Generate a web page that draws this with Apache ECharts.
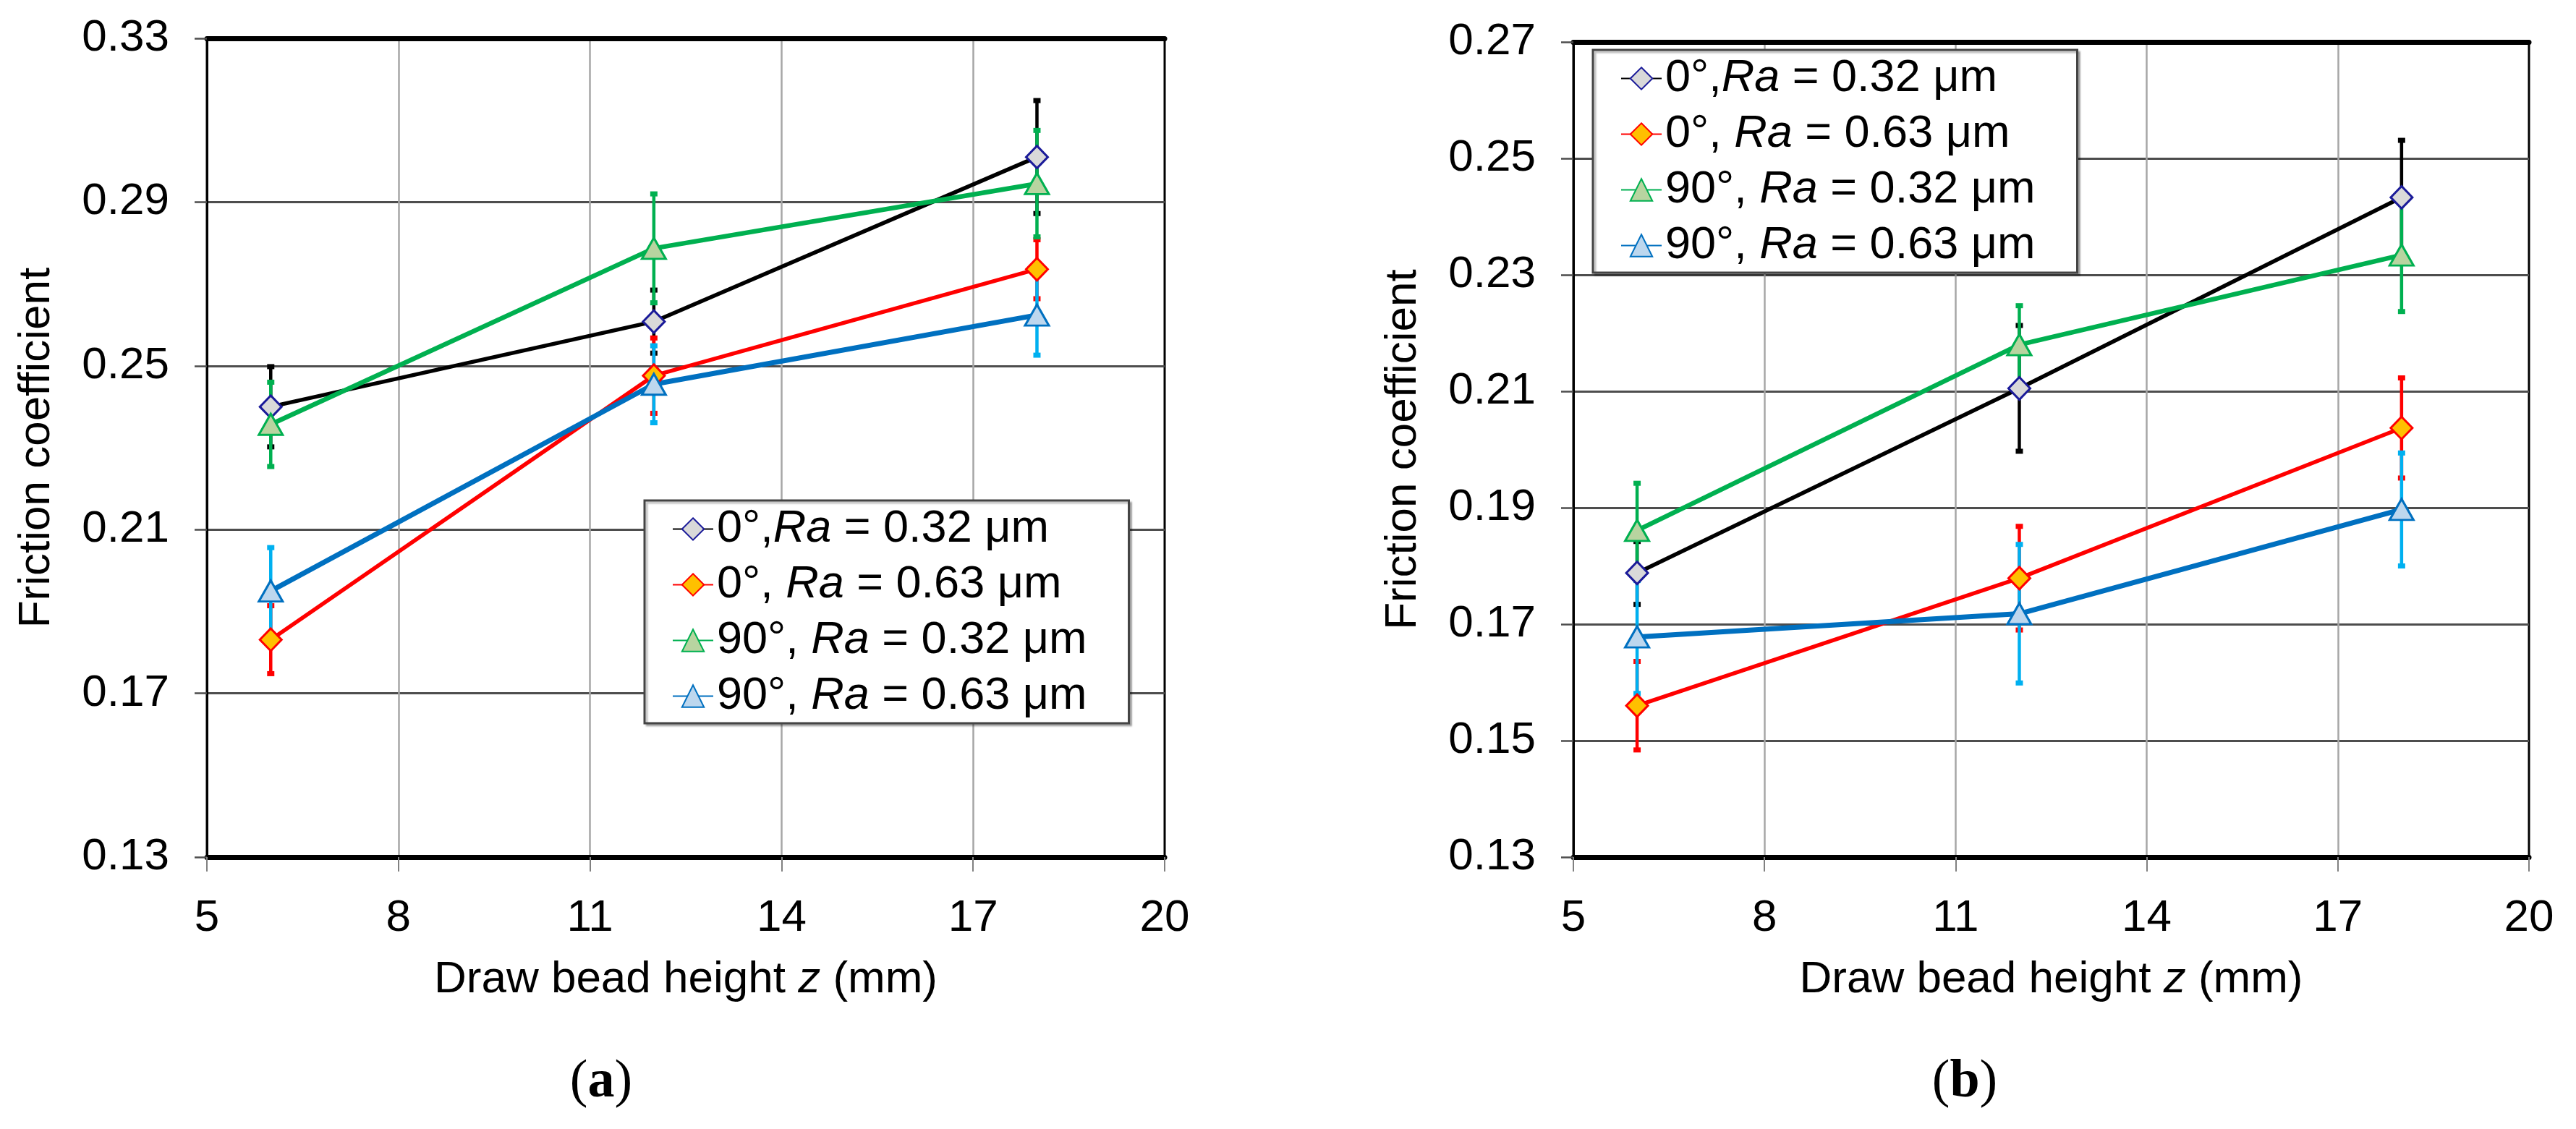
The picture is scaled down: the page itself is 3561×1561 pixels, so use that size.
<!DOCTYPE html>
<html>
<head>
<meta charset="utf-8">
<script src="https://cdn.jsdelivr.net/npm/echarts@6/dist/echarts.min.js"></script>
<style>
html,body{margin:0;padding:0;background:#fff;}
#c{width:3561px;height:1561px;}
</style>
</head>
<body>
<div id="c"></div>
<script>
// ---------- data ----------
const zValues = [6, 12, 18];                       // draw bead height z (mm)
const xTicks = [5, 8, 11, 14, 17, 20];
const yTicksA = [0.13, 0.17, 0.21, 0.25, 0.29, 0.33];
const yTicksB = [0.13, 0.15, 0.17, 0.19, 0.21, 0.23, 0.25, 0.27];
const seriesNames = ['0°,Ra = 0.32 μm', '0°, Ra = 0.63 μm', '90°, Ra = 0.32 μm', '90°, Ra = 0.63 μm'];
const xTitle = 'Draw bead height {i|z} (mm)';
const yTitle = 'Friction coefficient';
const captions = ['a', 'b'];

// (a)
const a0_032 = [0.2400, 0.2608, 0.3010];
const a0_032Err = [0.0098, 0.0077, 0.0138];
const a0_063 = [0.1831, 0.2476, 0.2736];
const a0_063Err = [0.0083, 0.0092, 0.0072];
const a90_032 = [0.2357, 0.2787, 0.2945];
const a90_032Err = [0.0103, 0.0133, 0.0130];
const a90_063 = [0.1950, 0.2455, 0.2624];
const a90_063Err = [0.0106, 0.0094, 0.0098];

// (b)
const b0_032 = [0.1788, 0.2105, 0.2433];
const b0_032Err = [0.0054, 0.0108, 0.0098];
const b0_063 = [0.1560, 0.1779, 0.2037];
const b0_063Err = [0.0076, 0.0089, 0.0086];
const b90_032 = [0.1861, 0.2180, 0.2334];
const b90_032Err = [0.0081, 0.0067, 0.0097];
const b90_063 = [0.1678, 0.1718, 0.1897];
const b90_063Err = [0.0097, 0.0119, 0.0097];

// ---------- styles ----------
const FONT = '"Liberation Sans", Arial, sans-serif';
const styles = [
  {line:'#000000', lw:5.5, sym:'diamond', size:[30,31], fill:'#d9d9d9', border:'#1a1a99', err:'#000000'},
  {line:'#ff0000', lw:5.5, sym:'diamond', size:[30,31], fill:'#ffc000', border:'#ff0000', err:'#ff0000'},
  {line:'#00b050', lw:6.5, sym:'triangle', size:[33,29], fill:'#b8d4a0', border:'#00b050', err:'#00b050'},
  {line:'#0070c0', lw:7, sym:'triangle', size:[33,29], fill:'#bdd7ee', border:'#0070c0', err:'#00b0f0'}
];

function pairs(vals){ return zValues.map((z,i)=>[z, vals[i]]); }
function errData(vals, errs){ return zValues.map((z,i)=>[z, vals[i]-errs[i], vals[i]+errs[i]]); }

function errRender(color){
  return function(params, api){
    const x = api.value(0), lo = api.value(1), hi = api.value(2);
    const p1 = api.coord([x, lo]), p2 = api.coord([x, hi]);
    const cw = 10, ch = 7;
    return {type:'group', children:[
      {type:'line', shape:{x1:p1[0], y1:p1[1], x2:p2[0], y2:p2[1]}, style:{stroke:color, lineWidth:4.5}},
      {type:'rect', shape:{x:p1[0]-cw/2, y:p1[1]-ch/2, width:cw, height:ch}, style:{fill:color}},
      {type:'rect', shape:{x:p2[0]-cw/2, y:p2[1]-ch/2, width:cw, height:ch}, style:{fill:color}}
    ]};
  };
}

const panels = [
  {vals:[a0_032, a0_063, a90_032, a90_063], errs:[a0_032Err, a0_063Err, a90_032Err, a90_063Err], ticks:yTicksA,
   grid:{left:286, top:53, width:1324, height:1132}, legend:{left:891, top:692}, cap:[831, 1497]},
  {vals:[b0_032, b0_063, b90_032, b90_063], errs:[b0_032Err, b0_063Err, b90_032Err, b90_063Err], ticks:yTicksB,
   grid:{left:2175, top:58, width:1321, height:1127}, legend:{left:2202, top:69}, cap:[2716, 1497]}
];

const option = {
  backgroundColor:'#ffffff',
  animation:false,
  grid:[], xAxis:[], yAxis:[], series:[], legend:[], graphic:[]
};

panels.forEach((p, gi)=>{
  option.grid.push(Object.assign({show:true, borderColor:'#000', borderWidth:3, backgroundColor:'transparent'}, p.grid));
  const xStep = xTicks[1]-xTicks[0];
  option.xAxis.push({
    type:'value', gridIndex:gi, position:'bottom',
    min:xTicks[0], max:xTicks[xTicks.length-1], interval:xStep,
    axisLine:{show:true, onZero:false, lineStyle:{color:'#000', width:7}},
    axisTick:{show:true, inside:false, length:20, lineStyle:{color:'#808080', width:2}},
    axisLabel:{fontSize:62, fontFamily:FONT, color:'#000', margin:54},
    splitLine:{show:true, showMinLine:false, showMaxLine:false, lineStyle:{color:'#a6a6a6', width:2.5}},
    name:xTitle, nameLocation:'middle', nameGap:139,
    nameTextStyle:{fontSize:62, fontFamily:FONT, color:'#000', rich:{i:{fontSize:62, fontFamily:FONT, fontStyle:'italic', color:'#000'}}}
  });
  option.xAxis.push({
    type:'value', gridIndex:gi, position:'top',
    min:xTicks[0], max:xTicks[xTicks.length-1], interval:xStep,
    axisLine:{show:true, onZero:false, lineStyle:{color:'#000', width:7}},
    axisTick:{show:false}, axisLabel:{show:false}, splitLine:{show:false}
  });
  const t = p.ticks;
  option.yAxis.push({
    type:'value', gridIndex:gi,
    min:t[0], max:t[t.length-1], interval:+(t[1]-t[0]).toFixed(2),
    axisLine:{show:true, onZero:false, lineStyle:{color:'#000', width:3}},
    axisTick:{show:true, inside:false, length:17, lineStyle:{color:'#4d4d4d', width:2.5}},
    axisLabel:{fontSize:62, fontFamily:FONT, color:'#000', margin:52, formatter:v=>(+v).toFixed(2)},
    splitLine:{show:true, showMinLine:false, showMaxLine:false, lineStyle:{color:'#4d4d4d', width:3}},
    name:yTitle, nameLocation:'middle', nameRotate:90, nameGap:204,
    nameTextStyle:{fontSize:62, fontFamily:FONT, color:'#000'}
  });
  // error bars first (below)
  p.vals.forEach((v, si)=>{
    option.series.push({
      type:'custom', xAxisIndex:gi*2, yAxisIndex:gi, z:1, silent:true,
      renderItem:errRender(styles[si].err),
      encode:{x:0, y:[1,2]},
      data:errData(v, p.errs[si])
    });
  });
  p.vals.forEach((v, si)=>{
    const s = styles[si];
    option.series.push({
      type:'line', name:seriesNames[si], xAxisIndex:gi*2, yAxisIndex:gi, z:3,
      data:pairs(v),
      symbol:s.sym, symbolSize:s.size, showSymbol:true,
      lineStyle:{color:s.line, width:s.lw},
      itemStyle:{color:s.fill, borderColor:s.border, borderWidth:3},
      emphasis:{disabled:true}
    });
  });
  option.legend.push({
    orient:'vertical', left:p.legend.left, top:p.legend.top,
    data:seriesNames, selectedMode:false,
    backgroundColor:'#fff', borderColor:'#444', borderWidth:3,
    shadowColor:'rgba(0,0,0,0.25)', shadowBlur:2, shadowOffsetX:3, shadowOffsetY:3,
    padding:[8, 58, 6, 38], itemGap:14, itemWidth:56, itemHeight:38,
    formatter:n=>n.replace('Ra', '{i|Ra}'),
    textStyle:{fontSize:63, fontFamily:FONT, color:'#000', lineHeight:62,
      rich:{i:{fontSize:63, fontFamily:FONT, fontStyle:'italic', color:'#000', lineHeight:62}}}
  });
  option.graphic.push({
    type:'text', x:p.cap[0], y:p.cap[1], silent:true,
    style:{text:'{p|(}{b|' + captions[gi] + '}{p|)}', align:'center', verticalAlign:'middle', textAlign:'center', textVerticalAlign:'middle',
      rich:{p:{fontSize:74, fontFamily:'"Liberation Serif", "Times New Roman", serif', fill:'#000', color:'#000'},
            b:{fontSize:74, fontFamily:'"Liberation Serif", "Times New Roman", serif', fontWeight:'bold', fill:'#000', color:'#000'}}}
  });
});

const chart = echarts.init(document.getElementById('c'));
chart.setOption(option);
</script>
</body>
</html>
